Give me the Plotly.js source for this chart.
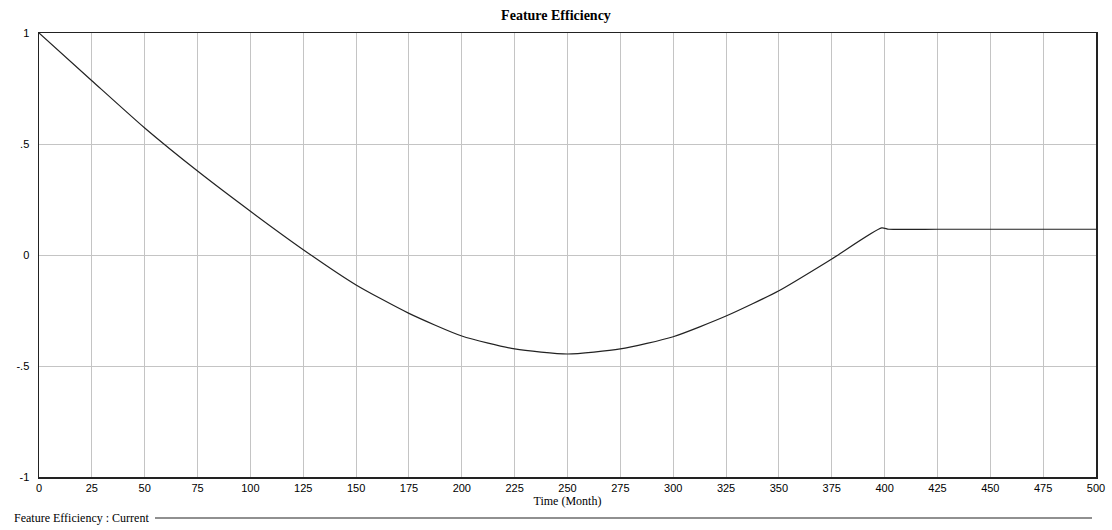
<!DOCTYPE html>
<html>
<head>
<meta charset="utf-8">
<script src="https://cdn.plot.ly/plotly-3.0.1.min.js"></script>
<style>
  html, body { margin: 0; padding: 0; background: #ffffff; }
  #chart { width: 1112px; height: 530px; }
</style>
</head>
<body>
<div id="chart"></div>
<script>
// Simulation output: Feature Efficiency over time (months)
const timeMonths = [0, 25, 50, 75, 100, 125, 150, 175, 200, 225, 250, 275, 300, 325, 350, 375, 398.6, 402, 425, 450, 475, 500];
const featureEfficiency = [1, 0.785, 0.572, 0.378, 0.197, 0.024, -0.135, -0.263, -0.365, -0.423, -0.446, -0.423, -0.368, -0.275, -0.161, -0.018, 0.122, 0.116, 0.116, 0.116, 0.116, 0.116];

const xTickVals = [0, 25, 50, 75, 100, 125, 150, 175, 200, 225, 250, 275, 300, 325, 350, 375, 400, 425, 450, 475, 500];
const yTickVals = [-1, -0.5, 0, 0.5, 1];
const yTickText = ['-1', '-.5', '0', '.5', '1'];

const serif = 'Liberation Serif, Times New Roman, serif';
const sans = 'Liberation Sans, Arial, sans-serif';

const trace = {
  x: timeMonths,
  y: featureEfficiency,
  type: 'scatter',
  mode: 'lines',
  name: 'Feature Efficiency : Current',
  line: { color: '#222222', width: 1.2, shape: 'spline', smoothing: 0.6 },
  hoverinfo: 'x+y'
};

const layout = {
  width: 1112,
  height: 530,
  margin: { l: 39, r: 16, t: 33, b: 53 },
  paper_bgcolor: '#ffffff',
  plot_bgcolor: '#ffffff',
  showlegend: false,
  title: {
    text: '<b>Feature Efficiency</b>',
    font: { family: serif, size: 14, color: '#000000' },
    xref: 'container', x: 0.5, xanchor: 'center',
    yref: 'container', y: 1 - 15 / 530, yanchor: 'middle'
  },
  xaxis: {
    range: [0, 500],
    tickvals: xTickVals,
    ticktext: xTickVals.map(String),
    showgrid: true,
    gridcolor: '#c4c4c4',
    gridwidth: 1,
    zeroline: false,
    showline: true,
    linecolor: '#222222',
    linewidth: 1.5,
    mirror: true,
    ticks: '',
    tickfont: { family: sans, size: 11, color: '#000000' },
    title: {
      text: 'Time (Month)',
      font: { family: serif, size: 12, color: '#000000' },
      standoff: 0
    },
    automargin: false,
    fixedrange: true
  },
  yaxis: {
    range: [-1, 1],
    tickvals: yTickVals,
    ticktext: yTickText,
    showgrid: true,
    gridcolor: '#c4c4c4',
    gridwidth: 1,
    zeroline: false,
    showline: true,
    linecolor: '#222222',
    linewidth: 1.5,
    mirror: true,
    ticks: '',
    ticklabelstandoff: 6,
    tickfont: { family: sans, size: 11, color: '#000000' },
    automargin: false,
    fixedrange: true
  },
  annotations: [
    {
      text: 'Feature Efficiency : Current',
      xref: 'paper', yref: 'paper',
      x: -27 / 1057, y: -41 / 444,
      xanchor: 'left', yanchor: 'middle',
      showarrow: false,
      font: { family: serif, size: 12, color: '#000000' }
    }
  ],
  shapes: [
    {
      type: 'line',
      xref: 'paper', yref: 'paper',
      x0: 116 / 1057, x1: 1053 / 1057,
      y0: -41 / 444, y1: -41 / 444,
      line: { color: '#222222', width: 1.2 }
    }
  ]
};

Plotly.newPlot('chart', [trace], layout, { displayModeBar: false, staticPlot: true });
</script>
</body>
</html>
